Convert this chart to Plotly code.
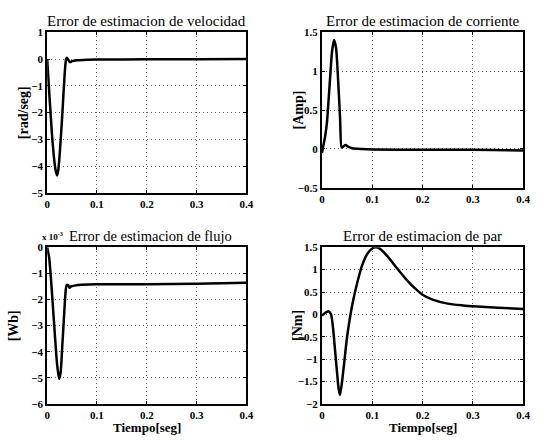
import plotly.graph_objects as go

# ---------------- data ----------------
t_vel = [0, 0.002, 0.005, 0.01, 0.015, 0.018, 0.02, 0.022, 0.025, 0.03, 0.035, 0.038, 0.04, 0.043, 0.046, 0.05, 0.06, 0.08, 0.1, 0.2, 0.3, 0.4]
e_vel = [0, -0.6, -1.5, -2.9, -3.9, -4.25, -4.35, -4.2, -3.6, -2.2, -0.6, 0.0, 0.05, -0.05, -0.12, -0.08, -0.05, -0.03, -0.02, -0.01, -0.01, 0.0]

t_cur = [0, 0.003, 0.006, 0.01, 0.015, 0.02, 0.024, 0.028, 0.032, 0.036, 0.039, 0.042, 0.047, 0.052, 0.06, 0.08, 0.1, 0.2, 0.3, 0.4]
e_cur = [-0.05, 0.05, 0.15, 0.35, 0.8, 1.25, 1.4, 1.3, 0.9, 0.4, 0.02, 0.03, 0.05, 0.03, 0.01, 0.0, -0.005, -0.01, -0.01, -0.02]

t_flu = [0, 0.004, 0.008, 0.012, 0.016, 0.02, 0.024, 0.027, 0.03, 0.034, 0.037, 0.039, 0.042, 0.045, 0.048, 0.055, 0.07, 0.1, 0.2, 0.3, 0.4]
e_flu = [0, -0.4, -1.3, -2.4, -3.5, -4.5, -5.05, -4.8, -3.9, -2.6, -1.7, -1.45, -1.45, -1.55, -1.5, -1.47, -1.44, -1.42, -1.42, -1.4, -1.36]  # x 10^-3 Wb

t_par = [0, 0.006, 0.013, 0.018, 0.022, 0.026, 0.03, 0.033, 0.036, 0.04, 0.045, 0.05, 0.06, 0.07, 0.08, 0.09, 0.1, 0.106, 0.115, 0.13, 0.15, 0.17, 0.19, 0.2, 0.22, 0.25, 0.28, 0.3, 0.35, 0.4]
e_par = [-0.03, 0.03, 0.07, 0.0, -0.3, -0.8, -1.3, -1.65, -1.8, -1.5, -1.0, -0.5, 0.2, 0.7, 1.1, 1.35, 1.47, 1.5, 1.47, 1.3, 1.02, 0.75, 0.53, 0.44, 0.33, 0.24, 0.2, 0.18, 0.15, 0.12]

titles = ["Error de estimacion de velocidad", "Error de estimacion de corriente",
          "Error de estimacion de flujo", "Error de estimacion de par"]
ylabels = ["[rad/seg]", "[Amp]", "[Wb]", "[Nm]"]
xlabel = "Tiempo[seg]"
x_ticks = [0, 0.1, 0.2, 0.3, 0.4]

# ---------------- figure ----------------
W, H = 538, 441
FONT = "Liberation Serif"
def fx(px): return px / W
def fy(py): return 1 - py / H

panels = [
    dict(t=t_vel, e=e_vel, xd=[fx(45), fx(248)], yd=[fy(192), fy(27)], yr=[-5, 1], dt=1),
    dict(t=t_cur, e=e_cur, xd=[fx(325), fx(530)], yd=[fy(187), fy(27)], yr=[-0.5, 1.5], dt=0.5),
    dict(t=t_flu, e=e_flu, xd=[fx(45), fx(248)], yd=[fy(409), fy(248)], yr=[-6, 0], dt=1),
    dict(t=t_par, e=e_par, xd=[fx(325), fx(530)], yd=[fy(409), fy(248)], yr=[-2, 1.5], dt=0.5),
]

fig = go.Figure()
tickfont = dict(family=FONT, size=11, color="black")
annotations = []
# exponent label of the flux panel
annotations.append(dict(text="<b>x 10<sup>-3</sup></b>", x=fx(63), y=fy(236), xref="paper",
                        yref="paper", xanchor="right", yanchor="middle", showarrow=False,
                        font=dict(family=FONT, size=9, color="black")))
for i, p in enumerate(panels):
    n = "" if i == 0 else str(i + 1)
    fig.add_trace(go.Scatter(x=p["t"], y=p["e"], mode="lines",
                             line=dict(color="black", width=2.5, shape="spline", smoothing=0.6),
                             xaxis="x" + n, yaxis="y" + n, showlegend=False, hoverinfo="skip"))
    vals = []
    v = p["yr"][0]
    while v <= p["yr"][1] + 1e-9:
        vals.append(round(v, 2))
        v += p["dt"]
    axcommon = dict(showline=True, linecolor="black", linewidth=2, mirror="ticks",
                    ticks="inside", ticklen=3, tickcolor="black",
                    showgrid=True, gridcolor="#666666", griddash="1px,3px", gridwidth=1,
                    zeroline=False, tickfont=tickfont)
    fig.update_layout(**{
        "xaxis" + n: dict(domain=p["xd"], range=[0, 0.4], tickvals=x_ticks,
                          ticktext=[f"<b>{v:g}</b>" for v in x_ticks],
                          anchor="y" + n, **axcommon),
        "yaxis" + n: dict(domain=p["yd"], range=p["yr"], tickvals=vals,
                          ticktext=["<b>" + f"{x:g}".replace("-", "\u2212") + "</b>" for x in vals],
                          anchor="x" + n, **axcommon),
    })
    cx = (p["xd"][0] + p["xd"][1]) / 2
    annotations.append(dict(text=titles[i], x=cx + (fx(4) if i == 2 else 0), y=p["yd"][1],
                            xref="paper", yref="paper",
                            xanchor="center", yanchor="bottom", yshift=1, showarrow=False,
                            font=dict(family=FONT, size=15 if i != 2 else 14.5, color="black")))
    ylx = {0: 21, 1: 301, 2: 11, 3: 300}[i]
    annotations.append(dict(text="<b>" + ylabels[i] + "</b>", x=fx(ylx),
                            y=(p["yd"][0] + p["yd"][1]) / 2, xref="paper", yref="paper",
                            textangle=-90, showarrow=False, xanchor="center", yanchor="middle",
                            font=dict(family=FONT, size=14, color="black")))
    if i >= 2:
        annotations.append(dict(text="<b>" + xlabel + "</b>", x=cx, y=fy(433), xref="paper",
                                yref="paper", xanchor="center", yanchor="middle", showarrow=False,
                                font=dict(family=FONT, size=13, color="black")))

fig.update_layout(width=W, height=H, margin=dict(l=0, r=0, t=0, b=0),
                  paper_bgcolor="white", plot_bgcolor="white",
                  font=dict(family=FONT, color="black"),
                  annotations=annotations)
fig.write_html("out.html", config={"displayModeBar": False},
               post_script="document.body.style.margin='0px';")
